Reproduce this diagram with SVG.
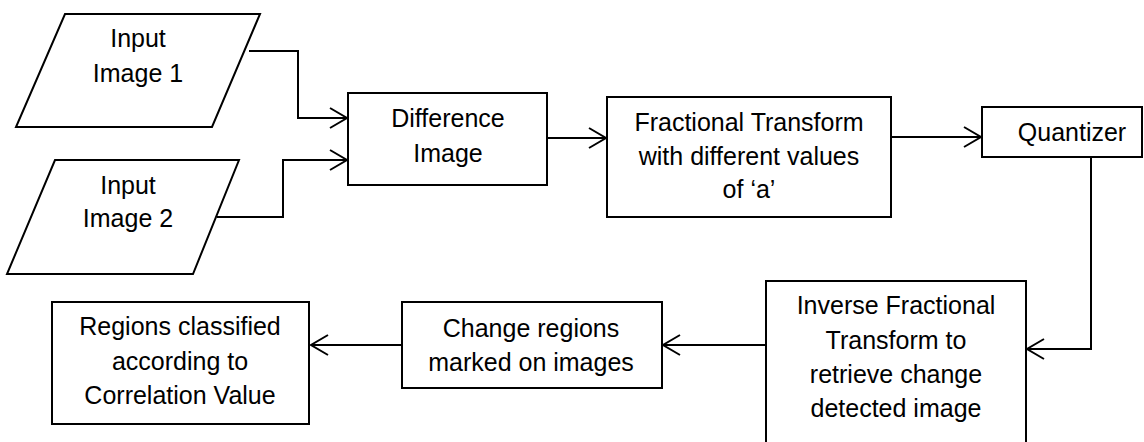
<svg xmlns="http://www.w3.org/2000/svg" width="1144" height="442" viewBox="0 0 1144 442">
<defs>
<style>
.box{fill:#fff;stroke:#000;stroke-width:2}
.t{font-family:"Liberation Sans",Arial,sans-serif;font-size:25px;fill:#000;text-anchor:middle}
.c{fill:none;stroke:#000;stroke-width:2}
</style>
<marker id="arr" viewBox="0 0 20 24" refX="18" refY="12" markerWidth="20" markerHeight="24" markerUnits="userSpaceOnUse" orient="auto">
<path d="M1,2 L18,12 L1,22" fill="none" stroke="#000" stroke-width="2"/>
</marker>
</defs>
<rect width="1144" height="442" fill="#fff"/>
<g id="connectors">
<path class="c" d="M249,51 H298 V118 H347" marker-end="url(#arr)"/>
<path class="c" d="M217,217 H283 V160 H347" marker-end="url(#arr)"/>
<path class="c" d="M547,138 H606" marker-end="url(#arr)"/>
<path class="c" d="M891,137 H981" marker-end="url(#arr)"/>
<path class="c" d="M1091,157 V349 H1027" marker-end="url(#arr)"/>
<path class="c" d="M766,345 H663" marker-end="url(#arr)"/>
<path class="c" d="M402,345 H311" marker-end="url(#arr)"/>
</g>
<g id="input1">
<polygon class="box" points="65,14 260,14 212,127 16,127"/>
<text class="t" x="138" y="47">Input</text>
<text class="t" x="138" y="82">Image 1</text>
</g>
<g id="input2">
<polygon class="box" points="55,160 239,160 193,274 7,274"/>
<text class="t" x="128" y="194">Input</text>
<text class="t" x="128" y="227">Image 2</text>
</g>
<g id="difference">
<rect class="box" x="348" y="93" width="199" height="92"/>
<text class="t" x="448" y="127">Difference</text>
<text class="t" x="448" y="162">Image</text>
</g>
<g id="fractional">
<rect class="box" x="607" y="97" width="284" height="120"/>
<text class="t" x="749" y="131">Fractional Transform</text>
<text class="t" x="749" y="165">with different values</text>
<text class="t" x="749" y="198">of ‘a’</text>
</g>
<g id="quantizer">
<rect class="box" x="982" y="107" width="160" height="50"/>
<text class="t" x="1072" y="141">Quantizer</text>
</g>
<g id="inverse">
<rect class="box" x="766" y="281" width="260" height="175"/>
<text class="t" x="896" y="314">Inverse Fractional</text>
<text class="t" x="896" y="349">Transform to</text>
<text class="t" x="896" y="383">retrieve change</text>
<text class="t" x="896" y="417">detected image</text>
</g>
<g id="change">
<rect class="box" x="402" y="302" width="260" height="86"/>
<text class="t" x="531" y="337">Change regions</text>
<text class="t" x="531" y="371">marked on images</text>
</g>
<g id="regions">
<rect class="box" x="52" y="302" width="257" height="122"/>
<text class="t" x="180" y="335">Regions classified</text>
<text class="t" x="180" y="370">according to</text>
<text class="t" x="180" y="404">Correlation Value</text>
</g>
</svg>
